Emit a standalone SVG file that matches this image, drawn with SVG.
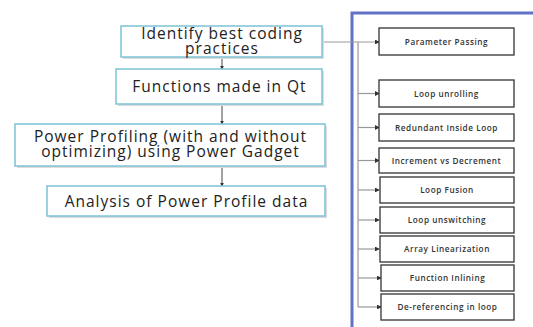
<svg xmlns="http://www.w3.org/2000/svg" width="533" height="327" viewBox="0 0 533 327">
<defs>
<style>
.lb{fill:#fff;stroke:#7cc3d6;stroke-width:1.5}
.sh{fill:#dcdcdc}
.lt{font-family:"Open Sans","Liberation Sans",sans-serif;font-size:15.5px;letter-spacing:1px;fill:#222;text-anchor:middle}
.rb{fill:#fff;stroke:#333;stroke-width:1.3}
.rt{font-family:"Open Sans","Liberation Sans",sans-serif;font-size:8.2px;letter-spacing:0.55px;font-weight:600;fill:#333;text-anchor:middle}
.c{stroke:#999;stroke-width:1.2;fill:none}
.cd{stroke:#444;stroke-width:1;fill:none}
</style>
<marker id="a" viewBox="0 0 6 6" refX="5" refY="3" markerWidth="4" markerHeight="4" orient="auto"><path d="M0,0L6,3L0,6z" fill="#333"/></marker>
</defs>
<rect width="533" height="327" fill="#fff"/>
<path d="M352,327V13H533" fill="none" stroke="#6272c6" stroke-width="3"/>
<g id="connectors">
<path class="cd" d="M222,57V69" marker-end="url(#a)"/>
<path class="cd" d="M222,104V124" marker-end="url(#a)"/>
<path class="cd" d="M222,166V186" marker-end="url(#a)"/>
<path class="c" d="M322,42H379" marker-end="url(#a)"/>
<path class="c" d="M358,42V307"/>
<path class="c" d="M358,93.5H379" marker-end="url(#a)"/>
<path class="c" d="M358,127.5H379" marker-end="url(#a)"/>
<path class="c" d="M358,160.5H379" marker-end="url(#a)"/>
<path class="c" d="M358,190H379" marker-end="url(#a)"/>
<path class="c" d="M358,220H379" marker-end="url(#a)"/>
<path class="c" d="M358,249H379" marker-end="url(#a)"/>
<path class="c" d="M358,278H381" marker-end="url(#a)"/>
<path class="c" d="M358,307H381" marker-end="url(#a)"/>
</g>
<g id="n1"><rect class="sh" x="123" y="28" width="201" height="31"/><rect class="lb" x="121" y="26" width="201" height="31"/><text class="lt" x="222" y="38.5">Identify best coding</text><text class="lt" x="222" y="54">practices</text></g>
<g id="n2"><rect class="sh" x="118" y="71" width="206" height="35"/><rect class="lb" x="116" y="69" width="206" height="35"/><text class="lt" x="219.5" y="92">Functions made in Qt</text></g>
<g id="n3"><rect class="sh" x="17" y="126" width="310" height="42"/><rect class="lb" x="15" y="124" width="310" height="42"/><text class="lt" x="170.5" y="141.5">Power Profiling (with and without</text><text class="lt" x="170.5" y="157">optimizing) using Power Gadget</text></g>
<g id="n4"><rect class="sh" x="49" y="188" width="278" height="30"/><rect class="lb" x="47" y="186" width="278" height="30"/><text class="lt" x="186.5" y="206.5">Analysis of Power Profile data</text></g>
<g id="r1"><rect class="rb" x="379" y="28" width="135" height="27"/><text class="rt" x="446.5" y="44.5">Parameter Passing</text></g>
<g id="r2"><rect class="rb" x="379" y="80" width="135" height="27"/><text class="rt" x="446.5" y="96.5">Loop unrolling</text></g>
<g id="r3"><rect class="rb" x="379" y="114" width="135" height="27"/><text class="rt" x="446.5" y="130.5">Redundant Inside Loop</text></g>
<g id="r4"><rect class="rb" x="379" y="148" width="135" height="25"/><text class="rt" x="446.5" y="163.5">Increment vs Decrement</text></g>
<g id="r5"><rect class="rb" x="380" y="177" width="134" height="26"/><text class="rt" x="447" y="193">Loop Fusion</text></g>
<g id="r6"><rect class="rb" x="380" y="207" width="134" height="26"/><text class="rt" x="447" y="223">Loop unswitching</text></g>
<g id="r7"><rect class="rb" x="380" y="236" width="134" height="26"/><text class="rt" x="447" y="252">Array Linearization</text></g>
<g id="r8"><rect class="rb" x="381" y="265" width="133" height="26"/><text class="rt" x="447.5" y="281">Function Inlining</text></g>
<g id="r9"><rect class="rb" x="381" y="294" width="133" height="26"/><text class="rt" x="447.5" y="310">De-referencing in loop</text></g>
</svg>
